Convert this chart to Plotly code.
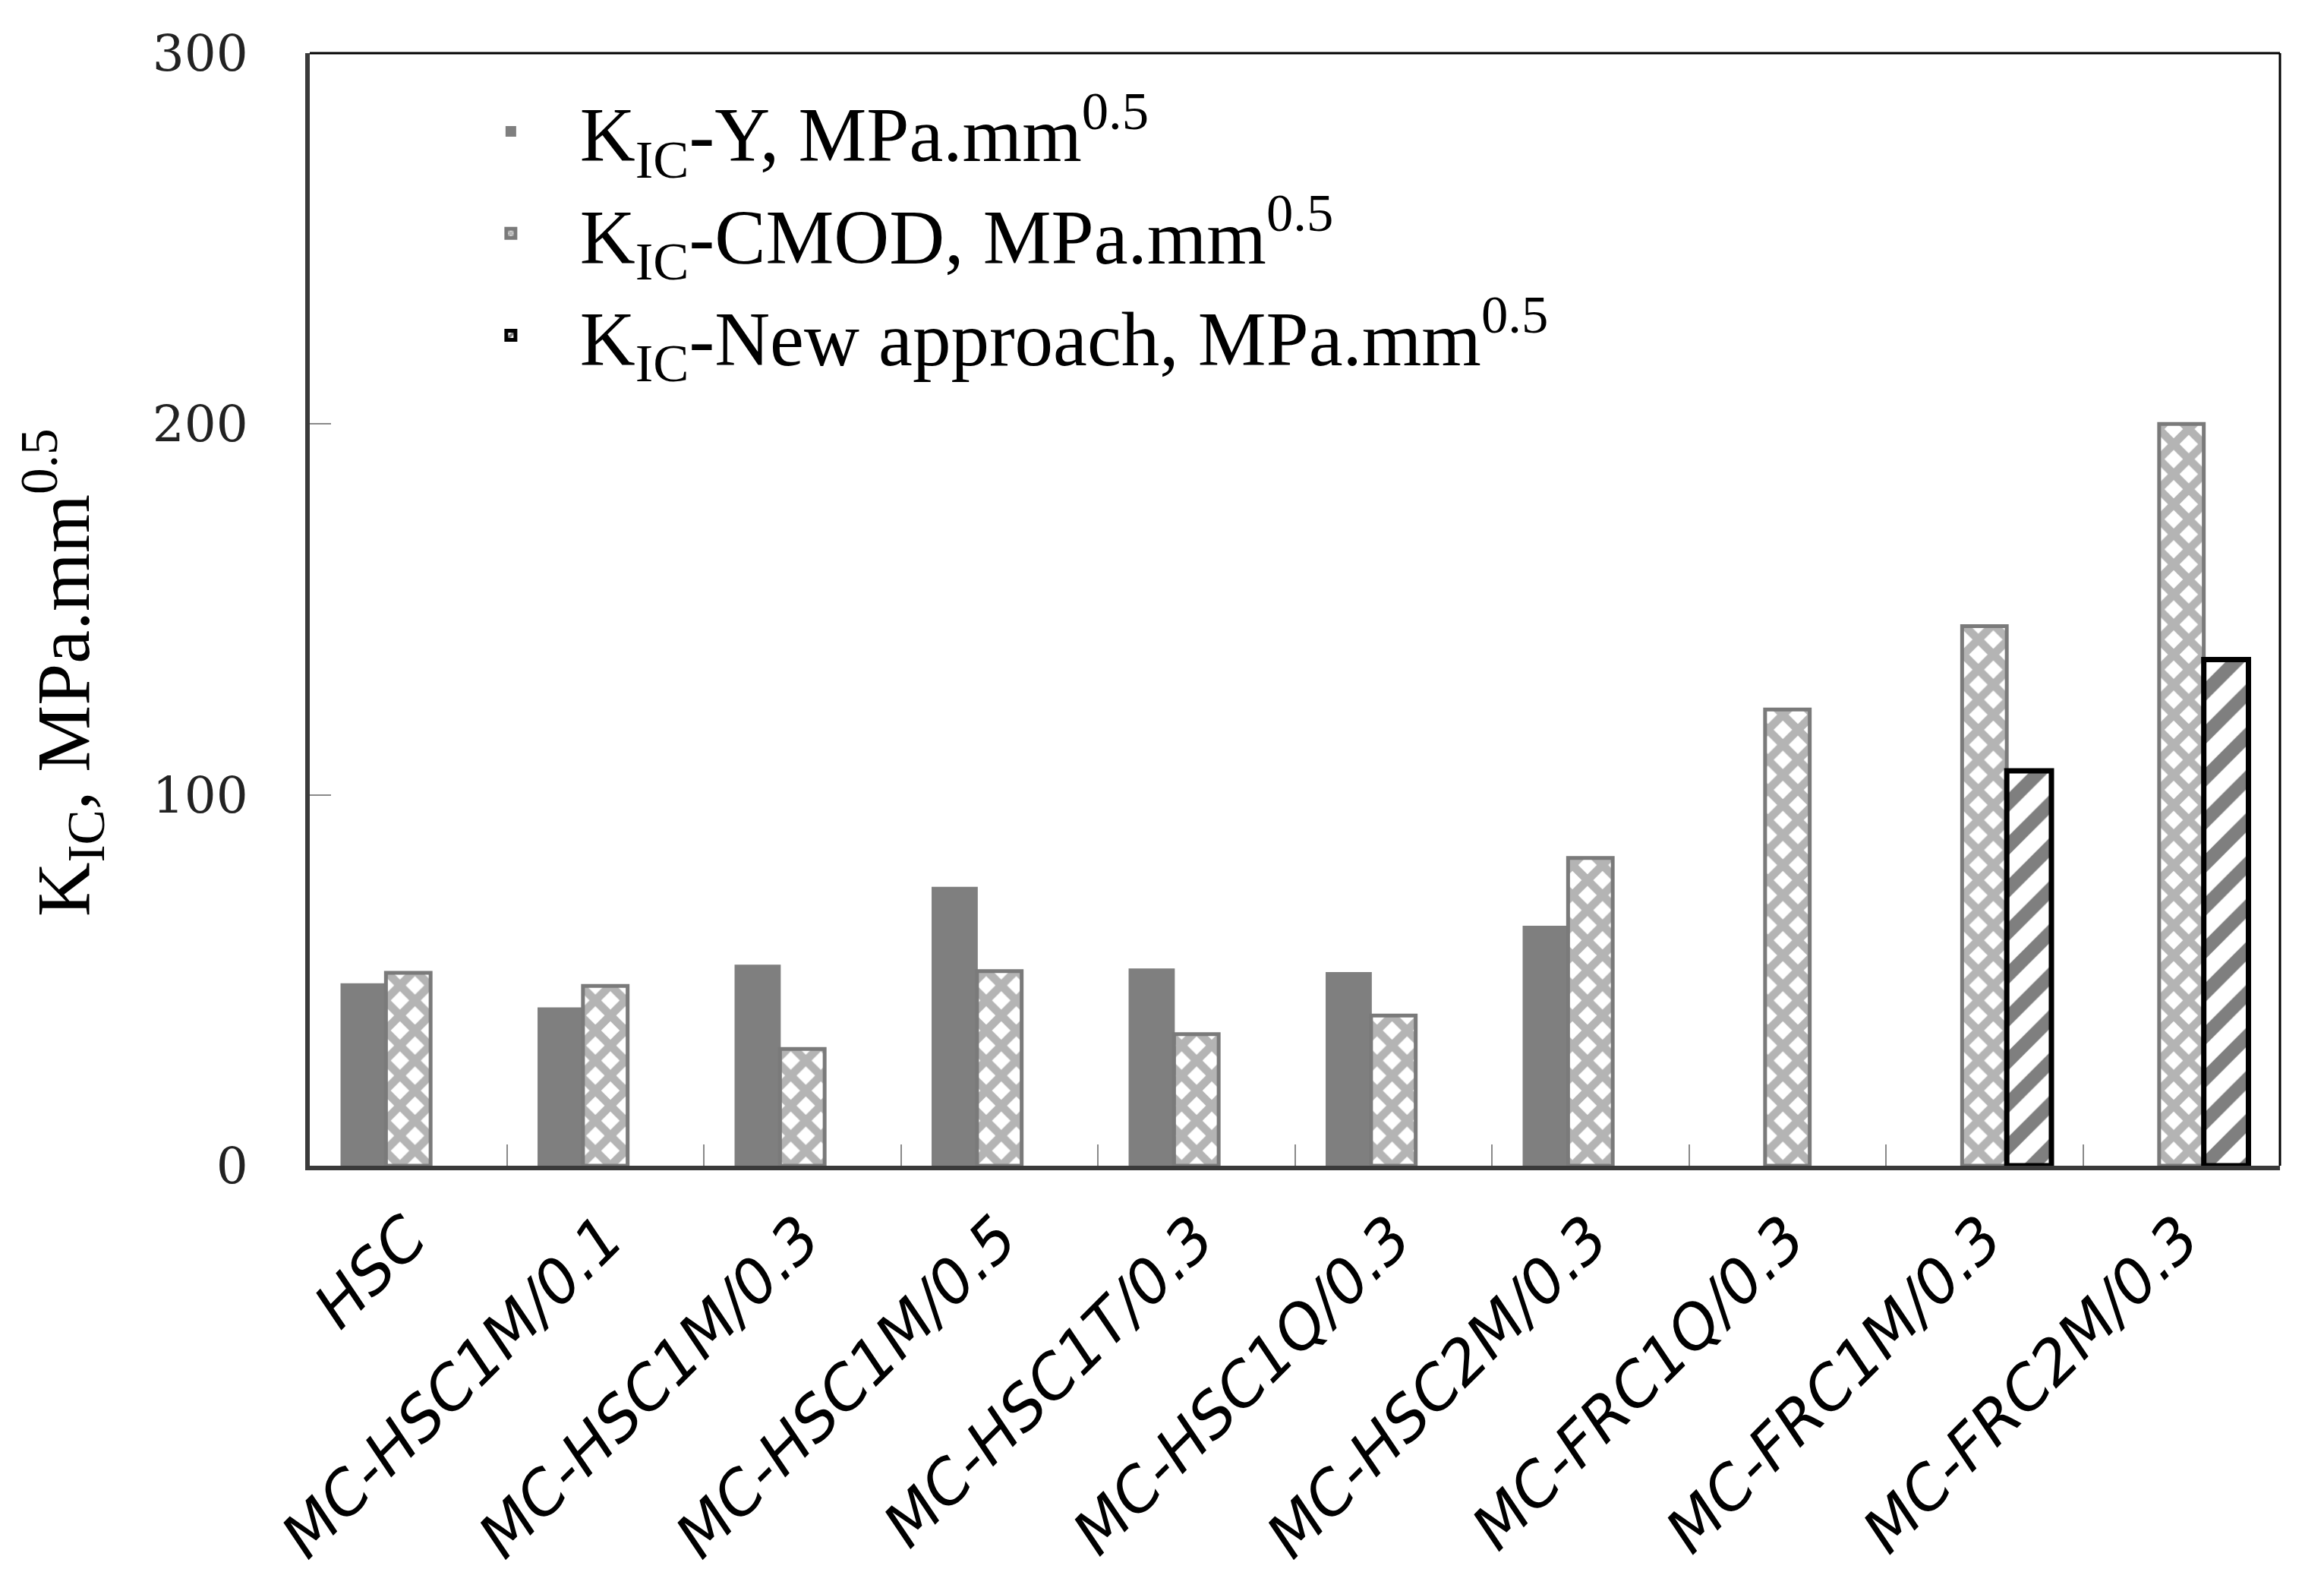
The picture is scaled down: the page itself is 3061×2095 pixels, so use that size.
import plotly.graph_objects as go

categories = ["HSC", "MC-HSC1M/0.1", "MC-HSC1M/0.3", "MC-HSC1M/0.5", "MC-HSC1T/0.3",
              "MC-HSC1Q/0.3", "MC-HSC2M/0.3", "MC-FRC1Q/0.3", "MC-FRC1M/0.3", "MC-FRC2M/0.3"]
kic_y = [49, 42.5, 54, 75, 53, 52, 64.5, None, None, None]
kic_cmod = [52, 48.5, 31.5, 52.5, 35.5, 40.5, 83, 123, 145.5, 200]
kic_new = [None, None, None, None, None, None, None, None, 106.5, 136.5]

names = ["K<sub>IC</sub>-Y, MPa.mm<sup>0.5</sup>",
         "K<sub>IC</sub>-CMOD, MPa.mm<sup>0.5</sup>",
         "K<sub>IC</sub>-New approach, MPa.mm<sup>0.5</sup>"]
y_title = "K<sub>IC</sub>, MPa.mm<sup>0.5</sup>"

fig = go.Figure()
fig.add_trace(go.Bar(x=categories, y=kic_y, name=names[0],
                     marker=dict(color="#7f7f7f", line=dict(color="#7f7f7f", width=2))))
fig.add_trace(go.Bar(x=categories, y=kic_cmod, name=names[1],
                     marker=dict(color="#808080", line=dict(color="#7a7a7a", width=5),
                                 pattern=dict(shape="x", bgcolor="white", fgcolor="#6a6a6a",
                                              size=28, solidity=0.62))))
fig.add_trace(go.Bar(x=categories, y=kic_new, name=names[2],
                     marker=dict(color="black", line=dict(color="black", width=7),
                                 pattern=dict(shape="/", bgcolor="white", fgcolor="black",
                                              size=40, solidity=0.45))))

serif = "Liberation Serif, Times New Roman, serif"
fig.update_layout(
    width=3045, height=2079,
    paper_bgcolor="white", plot_bgcolor="white",
    margin=dict(l=400, r=50, t=62, b=552),
    barmode="group", bargap=0.32, bargroupgap=0,
    showlegend=True,
    legend=dict(x=0.067, y=0.979, xanchor="left", yanchor="top",
                font=dict(family=serif, size=101, color="black"),
                bgcolor="rgba(0,0,0,0)", itemwidth=172),
    font=dict(family=serif, color="black"),
)
fig.update_xaxes(
    type="category", showline=True, linecolor="#3a3a3a", linewidth=6,
    ticks="inside", ticklen=28, tickwidth=2, tickcolor="#8a8a8a",
    tickson="boundaries",
    tickangle=-45, ticklabelstandoff=10,
    tickfont=dict(family="DejaVu Sans", size=80, color="black", style="italic"),
    showgrid=False, zeroline=False,
)
fig.update_yaxes(
    range=[0, 300], dtick=100, tick0=0,
    showline=True, linecolor="#3a3a3a", linewidth=6,
    ticks="inside", ticklen=28, tickwidth=2, tickcolor="#8a8a8a",
    ticklabelstandoff=62,
    tickfont=dict(family="DejaVu Serif", size=66, color="#222222"),
    showgrid=False, zeroline=False,
)
fig.add_annotation(text=y_title, xref="paper", yref="paper", x=-0.1256, y=0.443,
                   xanchor="center", yanchor="middle", textangle=-90, showarrow=False,
                   font=dict(family=serif, size=99, color="black"))
# thin frame on top and right
fig.add_shape(type="line", xref="paper", yref="paper", x0=0, x1=1, y0=1, y1=1,
              line=dict(color="black", width=3))
fig.add_shape(type="line", xref="paper", yref="paper", x0=1, x1=1, y0=0, y1=1,
              line=dict(color="black", width=3))

fig.write_html("out.html")
